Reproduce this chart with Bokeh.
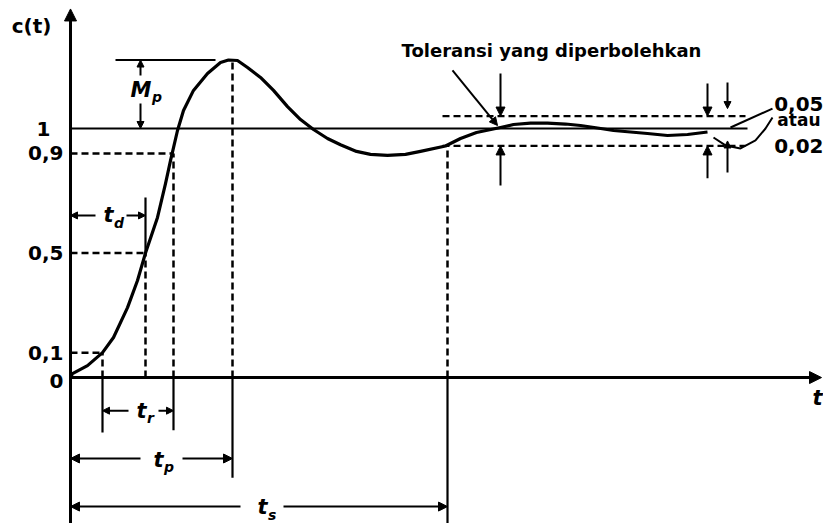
from bokeh.plotting import figure
from bokeh.models import Range1d, Arrow, NormalHead, ColumnDataSource
from bokeh.core.properties import value
from bokeh.embed import file_html
from bokeh.resources import INLINE

# ---------------- data ----------------
# step response c(t), t in arbitrary units
t_vals = [0.00, 0.02, 0.17, 0.32, 0.43, 0.57, 0.67, 0.75, 0.87, 0.95, 1.00, 1.07,
          1.13, 1.23, 1.37, 1.50, 1.58, 1.67, 1.77, 1.90, 2.03, 2.17, 2.30, 2.43,
          2.57, 2.70, 2.86, 3.00, 3.17, 3.35, 3.50, 3.75, 3.90, 4.06, 4.30, 4.43,
          4.60, 4.77, 4.95, 5.10, 5.27, 5.43, 5.60, 5.77, 5.97, 6.17, 6.37]
c_vals = [0.000, 0.016, 0.048, 0.100, 0.161, 0.281, 0.390, 0.500, 0.643, 0.779,
          0.871, 0.992, 1.072, 1.153, 1.221, 1.265, 1.275, 1.273, 1.245, 1.205,
          1.153, 1.088, 1.036, 0.996, 0.960, 0.935, 0.908, 0.896, 0.892, 0.896,
          0.908, 0.930, 0.960, 0.984, 1.004, 1.016, 1.022, 1.022, 1.018, 1.012,
          1.002, 0.992, 0.986, 0.980, 0.972, 0.976, 0.986]

tick_vals = [0, 0.1, 0.5, 0.9, 1]
tick_text = ["0", "0,1", "0,5", "0,9", "1"]

# characteristic times
t_10 = 0.32    # c = 0.1
t_d = 0.75     # delay time (c = 0.5)
t_90 = 1.03    # c = 0.9
t_p = 1.62     # peak time
t_s = 3.77     # settling time
c_peak = 1.275
final_value = 1.0
band_hi = 1.05
band_lo = 0.93
t_end = 6.77

# ---------------- figure ----------------
p = figure(width=823, height=523, x_range=Range1d(-0.70, 7.53),
           y_range=Range1d(-0.586, 1.514), toolbar_location=None,
           output_backend="svg", x_axis_type=None, y_axis_type=None,
           min_border=0)
p.min_border_left = p.min_border_right = p.min_border_top = p.min_border_bottom = 0
p.grid.visible = False
p.outline_line_color = None
p.background_fill_color = "white"

K = "black"
FONT = value("DejaVu Sans")


def arrow(x0, y0, x1, y1, w=2.0, size=9):
    p.add_layout(Arrow(end=NormalHead(size=size, fill_color=K, line_color=K, line_width=1),
                       x_start=x0, y_start=y0, x_end=x1, y_end=y1,
                       line_color=K, line_width=w))


def txt(x, y, s, size=20, style="bold", align="center", base="middle"):
    p.text(x=[x], y=[y], text=[s], text_font=FONT, text_font_size=f"{size}px",
           text_font_style=style, text_align=align, text_baseline=base, text_color=K)


def sub_label(x, y, main, sub):
    txt(x, y, main, size=21, style="bold italic", align="right")
    txt(x + 0.005, y - 0.03, sub, size=14, style="bold italic", align="left")


# axes with arrows
arrow(0, -0.60, 0, 1.48, w=3, size=12)
arrow(0, 0, 7.51, 0, w=3, size=12)

# final value line and Mp line
p.line([0, t_end], [final_value, final_value], line_color=K, line_width=2.2)
p.line([0.45, 1.45], [c_peak, c_peak], line_color=K, line_width=2.2)

# dashed guide lines
dash = "7 4"
for lvl, tt in [(0.1, t_10), (0.5, t_d), (0.9, t_90)]:
    p.line([0, tt], [lvl, lvl], line_color=K, line_width=2.5, line_dash=dash)
for tt, top in [(t_10, 0.1), (t_d, 0.5), (t_90, 0.9), (t_p, c_peak), (t_s, band_lo)]:
    p.line([tt, tt], [0, top], line_color=K, line_width=2.5, line_dash=dash)
for lvl in [band_hi, band_lo]:
    p.line([3.72, 6.75], [lvl, lvl], line_color=K, line_width=2.3, line_dash=dash)

# response curve
src = ColumnDataSource(dict(t=t_vals, c=c_vals))
p.line("t", "c", source=src, line_color=K, line_width=3.2, line_join="round")

# tick extension lines below the axis
p.segment(x0=[t_10, t_90, t_p, t_s, t_d], y0=[0, 0, 0, 0, 0.5],
          x1=[t_10, t_90, t_p, t_s, t_d], y1=[-0.221, -0.212, -0.402, -0.62, 0.723],
          line_color=K, line_width=2.2)

# dimension arrows
y_td, y_tr, y_tp, y_ts = 0.651, -0.133, -0.325, -0.518
arrow(0.25, y_td, 0.0, y_td, size=7); arrow(0.56, y_td, t_d, y_td, size=7)
arrow(0.58, y_tr, t_10, y_tr, size=7); arrow(0.88, y_tr, t_90, y_tr, size=7)
arrow(0.70, y_tp, 0.0, y_tp); arrow(1.12, y_tp, t_p, y_tp)
arrow(1.70, y_ts, 0.0, y_ts); arrow(2.13, y_ts, t_s, y_ts)

# Mp arrows
arrow(0.70, 1.213, 0.70, c_peak, size=7)
arrow(0.70, 1.10, 0.70, final_value, size=7)

# tolerance arrows
arrow(4.30, 1.221, 4.30, band_hi); arrow(4.30, 0.771, 4.30, band_lo)
arrow(6.37, 1.181, 6.37, band_hi); arrow(6.37, 0.80, 6.37, band_lo)
arrow(6.57, 1.185, 6.57, 1.08, size=7); arrow(6.57, 0.823, 6.57, 0.95, size=7)
arrow(3.82, 1.233, 4.27, 1.012, size=8)

# leaders to 0,05 / 0,02
p.line([6.60, 7.02], [1.004, 1.080], line_color=K, line_width=2)
p.line([6.43, 6.55, 6.70, 6.85, 6.95, 7.02], [0.964, 0.932, 0.920, 0.952, 1.000, 1.044],
       line_color=K, line_width=2)

# texts
p.text(x=[-0.07] * 4 + [-0.20], y=[-0.012, 0.1, 0.5, 0.9, 1.0],
       text=tick_text, text_font=FONT, text_font_size="20px",
       text_font_style="bold", text_align="right", text_baseline="middle", text_color=K)
txt(-0.39, 1.41, "c(t)", size=20)
txt(7.47, -0.084, "t", size=21, style="bold italic")
txt(4.81, 1.313, "Toleransi yang diperbolehkan", size=18)
txt(7.53, 1.097, "0,05", size=20, align="right")
txt(7.50, 1.035, "atau", size=17, align="right")
txt(7.53, 0.930, "0,02", size=20, align="right")

sub_label(0.81, 1.155, "M", "p")
sub_label(0.43, 0.651, "t", "d")
sub_label(0.76, -0.133, "t", "r")
sub_label(0.93, -0.33, "t", "p")
sub_label(1.97, -0.52, "t", "s")

open("out.html", "w").write(file_html(p, INLINE))
